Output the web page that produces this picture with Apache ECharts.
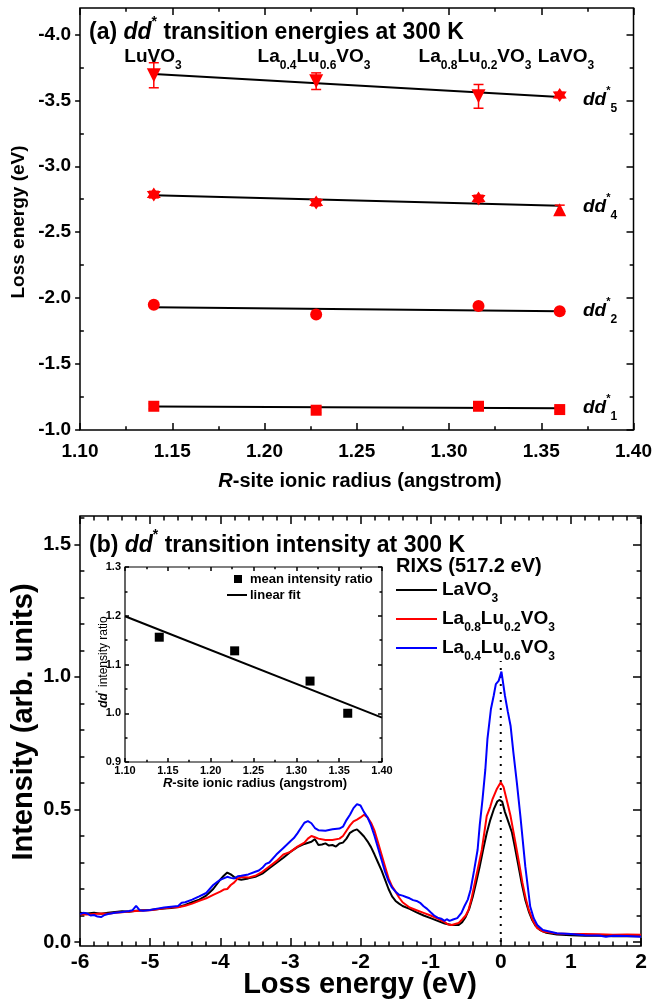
<!DOCTYPE html>
<html><head><meta charset="utf-8">
<script src="https://cdn.jsdelivr.net/npm/echarts@6.0.0/dist/echarts.min.js"></script>
<style>html,body{margin:0;padding:0;background:#fff}#c{width:655px;height:1001px}</style>
</head><body><div id="c"></div><script>
// ---------- data ----------
const radius = [1.14, 1.228, 1.316, 1.36];
const dd1 = [-1.18, -1.15, -1.18, -1.155];
const dd1Err = [0.02, 0.02, 0.02, 0.02];
const dd2 = [-1.95, -1.875, -1.94, -1.90];
const dd2Err = [0.01, 0.01, 0.01, 0.01];
const dd4 = [-2.785, -2.725, -2.755, -2.67];
const dd4Err = [0.025, 0.025, 0.025, 0.035];
const dd5 = [-3.69, -3.645, -3.53, -3.54];
const dd5Err = [0.095, 0.063, 0.09, 0.02];
const fitX = [1.14, 1.36];
const fit1 = [-1.178, -1.165];
const fit2 = [-1.93, -1.90];
const fit4 = [-2.78, -2.70];
const fit5 = [-3.70, -3.525];
const ratio = [1.156, 1.128, 1.066, 1.0];
const ratioFitX = [1.10, 1.40];
const ratioFit = [1.199, 0.991];
const topYLabels = [-4.0, -3.5, -3.0, -2.5, -2.0, -1.5, -1.0];
const botYLabels = [0.0, 0.5, 1.0, 1.5];
const lavo3 = [[-6.0,0.11],[-5.9,0.108],[-5.8,0.11],[-5.7,0.107],[-5.6,0.11],[-5.5,0.113],[-5.4,0.116],[-5.3,0.114],[-5.2,0.118],[-5.1,0.12],[-5.0,0.121],[-4.9,0.124],[-4.8,0.126],[-4.7,0.128],[-4.6,0.132],[-4.5,0.14],[-4.4,0.15],[-4.3,0.16],[-4.2,0.175],[-4.1,0.2],[-4.0,0.235],[-3.95,0.25],[-3.9,0.262],[-3.85,0.255],[-3.8,0.245],[-3.75,0.238],[-3.7,0.235],[-3.6,0.24],[-3.5,0.246],[-3.4,0.258],[-3.3,0.278],[-3.2,0.298],[-3.1,0.318],[-3.0,0.34],[-2.9,0.358],[-2.8,0.37],[-2.7,0.378],[-2.65,0.388],[-2.6,0.366],[-2.55,0.368],[-2.5,0.372],[-2.45,0.364],[-2.4,0.366],[-2.35,0.36],[-2.3,0.372],[-2.25,0.375],[-2.2,0.39],[-2.15,0.412],[-2.1,0.42],[-2.05,0.425],[-2.0,0.412],[-1.95,0.398],[-1.9,0.38],[-1.85,0.358],[-1.8,0.33],[-1.75,0.3],[-1.7,0.27],[-1.65,0.235],[-1.6,0.2],[-1.55,0.172],[-1.5,0.155],[-1.45,0.145],[-1.4,0.136],[-1.3,0.125],[-1.2,0.112],[-1.1,0.1],[-1.0,0.09],[-0.9,0.08],[-0.8,0.07],[-0.7,0.064],[-0.6,0.064],[-0.55,0.075],[-0.5,0.095],[-0.45,0.125],[-0.4,0.17],[-0.35,0.225],[-0.3,0.285],[-0.25,0.35],[-0.2,0.41],[-0.15,0.46],[-0.1,0.5],[-0.05,0.53],[-0.02,0.536],[0.02,0.53],[0.06,0.49],[0.1,0.46],[0.16,0.413],[0.2,0.36],[0.25,0.29],[0.3,0.22],[0.35,0.159],[0.4,0.115],[0.45,0.082],[0.5,0.06],[0.56,0.045],[0.65,0.035],[0.8,0.028],[1.0,0.026],[1.2,0.024],[1.4,0.025],[1.6,0.022],[1.8,0.023],[2.0,0.022]];
const la08 = [[-6.0,0.105],[-5.9,0.104],[-5.8,0.106],[-5.7,0.108],[-5.6,0.107],[-5.5,0.11],[-5.4,0.112],[-5.3,0.115],[-5.2,0.117],[-5.1,0.119],[-5.0,0.12],[-4.9,0.124],[-4.8,0.127],[-4.7,0.13],[-4.6,0.131],[-4.5,0.137],[-4.4,0.145],[-4.3,0.155],[-4.2,0.165],[-4.1,0.178],[-4.0,0.19],[-3.95,0.198],[-3.9,0.2],[-3.85,0.215],[-3.8,0.225],[-3.75,0.24],[-3.7,0.245],[-3.6,0.243],[-3.5,0.25],[-3.4,0.265],[-3.3,0.285],[-3.2,0.305],[-3.1,0.33],[-3.0,0.34],[-2.9,0.36],[-2.8,0.375],[-2.75,0.39],[-2.7,0.4],[-2.65,0.395],[-2.6,0.39],[-2.5,0.385],[-2.4,0.385],[-2.3,0.39],[-2.25,0.4],[-2.2,0.42],[-2.15,0.44],[-2.1,0.455],[-2.05,0.462],[-2.0,0.47],[-1.95,0.48],[-1.9,0.47],[-1.85,0.45],[-1.8,0.42],[-1.75,0.375],[-1.7,0.33],[-1.65,0.285],[-1.6,0.24],[-1.55,0.21],[-1.5,0.19],[-1.45,0.168],[-1.4,0.15],[-1.3,0.13],[-1.2,0.12],[-1.1,0.11],[-1.0,0.1],[-0.9,0.088],[-0.8,0.075],[-0.75,0.066],[-0.7,0.064],[-0.6,0.072],[-0.55,0.085],[-0.5,0.1],[-0.46,0.121],[-0.42,0.16],[-0.37,0.223],[-0.32,0.285],[-0.27,0.348],[-0.23,0.42],[-0.2,0.475],[-0.15,0.51],[-0.12,0.537],[-0.06,0.575],[0.0,0.603],[0.04,0.585],[0.1,0.52],[0.14,0.475],[0.21,0.374],[0.26,0.3],[0.31,0.223],[0.36,0.16],[0.4,0.121],[0.46,0.08],[0.52,0.052],[0.6,0.04],[0.8,0.032],[1.0,0.03],[1.2,0.03],[1.4,0.029],[1.6,0.027],[1.8,0.028],[2.0,0.027]];
const la04 = [[-6.0,0.105],[-5.95,0.11],[-5.9,0.108],[-5.85,0.1],[-5.8,0.102],[-5.75,0.096],[-5.7,0.094],[-5.65,0.102],[-5.6,0.106],[-5.5,0.11],[-5.4,0.113],[-5.3,0.117],[-5.25,0.12],[-5.2,0.136],[-5.15,0.12],[-5.1,0.118],[-5.0,0.121],[-4.9,0.126],[-4.8,0.13],[-4.7,0.133],[-4.6,0.136],[-4.55,0.148],[-4.5,0.15],[-4.4,0.16],[-4.3,0.172],[-4.2,0.185],[-4.15,0.2],[-4.1,0.215],[-4.05,0.225],[-4.0,0.235],[-3.95,0.24],[-3.9,0.246],[-3.85,0.242],[-3.8,0.24],[-3.75,0.248],[-3.7,0.25],[-3.6,0.255],[-3.5,0.265],[-3.45,0.27],[-3.4,0.28],[-3.35,0.295],[-3.3,0.3],[-3.2,0.33],[-3.1,0.355],[-3.0,0.38],[-2.95,0.392],[-2.9,0.41],[-2.85,0.43],[-2.8,0.45],[-2.75,0.456],[-2.7,0.448],[-2.65,0.43],[-2.6,0.422],[-2.5,0.42],[-2.4,0.425],[-2.3,0.428],[-2.25,0.435],[-2.2,0.46],[-2.15,0.48],[-2.1,0.505],[-2.05,0.52],[-2.0,0.515],[-1.95,0.49],[-1.9,0.47],[-1.85,0.44],[-1.8,0.4],[-1.75,0.355],[-1.7,0.31],[-1.65,0.265],[-1.6,0.23],[-1.55,0.205],[-1.5,0.19],[-1.45,0.178],[-1.4,0.175],[-1.35,0.17],[-1.3,0.165],[-1.25,0.158],[-1.2,0.155],[-1.15,0.148],[-1.1,0.135],[-1.05,0.125],[-1.0,0.112],[-0.95,0.1],[-0.9,0.092],[-0.85,0.088],[-0.8,0.08],[-0.77,0.086],[-0.73,0.08],[-0.68,0.085],[-0.62,0.09],[-0.56,0.11],[-0.52,0.134],[-0.47,0.16],[-0.43,0.197],[-0.38,0.27],[-0.33,0.348],[-0.3,0.44],[-0.26,0.538],[-0.22,0.65],[-0.19,0.765],[-0.14,0.879],[-0.1,0.93],[-0.07,0.973],[-0.03,0.985],[0.01,1.02],[0.06,0.929],[0.1,0.87],[0.14,0.816],[0.18,0.715],[0.23,0.6],[0.28,0.475],[0.35,0.285],[0.42,0.134],[0.47,0.09],[0.52,0.064],[0.6,0.045],[0.8,0.033],[1.0,0.03],[1.2,0.026],[1.4,0.025],[1.5,0.02],[1.6,0.024],[1.8,0.023],[2.0,0.02]];
const elasticLine = [[0, 0], [0, 1.06]];

// ---------- helpers ----------
const FONT = "'Liberation Sans', Arial, Helvetica, sans-serif";
const RED = '#ff0000', BLUE = '#0000ff', BLACK = '#000000';
const HEX = 'path://M0,-10 L2.887,-5 L8.66,-5 L5.774,0 L8.66,5 L2.887,5 L0,10 L-2.887,5 L-8.66,5 L-5.774,0 L-8.66,-5 L-2.887,-5 Z';

function richFor(size, weight) {
  const w = weight || 'bold';
  return {
    i: { fontStyle: 'italic', fontWeight: 'bold', fontSize: size, fontFamily: FONT, lineHeight: Math.round(size * 1.5), fill: '#000' },
    sup: { fontSize: Math.round(size * 0.6), fontWeight: w, fontFamily: FONT, verticalAlign: 'top', lineHeight: Math.round(size * 0.6), fill: '#000' },
    sub: { fontSize: Math.round(size * 0.62), fontWeight: w, fontFamily: FONT, verticalAlign: 'bottom', lineHeight: Math.round(size * 0.62), fill: '#000' }
  };
}
function txt(x, y, text, size, opt) {
  opt = opt || {};
  const align = opt.align || 'left';
  const weight = opt.weight || 'bold';
  return {
    type: 'text', x: x, y: y, rotation: opt.rotation || 0, z: 100,
    style: {
      text: text, rich: richFor(size, weight), fontSize: size, fontWeight: weight, fontFamily: FONT,
      fill: '#000', lineHeight: Math.round(size * 1.5),
      align: align, verticalAlign: 'middle', textAlign: align, textVerticalAlign: 'middle'
    }
  };
}
function gline(x1, y1, x2, y2, color, w) {
  return { type: 'line', z: 100, shape: { x1: x1, y1: y1, x2: x2, y2: y2 }, style: { stroke: color, lineWidth: w || 2 } };
}
const tickStyle = { color: '#000', width: 1.5 };
const noLine = { show: false, onZero: false };
function xFrame(gridIndex, min, max, interval, split, fmt, fontSize, margin, majLen) {
  const base = { gridIndex: gridIndex, type: 'value', min: min, max: max, interval: interval,
    axisLine: noLine, splitLine: { show: false },
    axisTick: { show: true, inside: true, length: majLen, lineStyle: tickStyle },
    minorTick: { show: true, splitNumber: split, length: majLen * 0.55, lineStyle: tickStyle } };
  return [
    Object.assign({}, base, { position: 'bottom',
      axisLabel: { show: true, formatter: fmt, color: '#000', fontWeight: 'bold', fontFamily: FONT, fontSize: fontSize, margin: margin } }),
    Object.assign({}, base, { position: 'top', axisLabel: { show: false } })
  ];
}
function yFrame(gridIndex, min, max, inverse, majors, minors, fontSize, margin, majLen) {
  const base = { gridIndex: gridIndex, type: 'value', min: min, max: max, inverse: inverse,
    axisLine: noLine, splitLine: { show: false } };
  return [
    Object.assign({}, base, { position: 'left',
      axisTick: { show: true, inside: false, length: majLen * 0.7, customValues: majors, lineStyle: tickStyle },
      axisLabel: { show: true, customValues: majors, formatter: v => v.toFixed(1), color: '#000', fontWeight: 'bold', fontFamily: FONT, fontSize: fontSize, margin: margin } }),
    Object.assign({}, base, { position: 'left', axisLabel: { show: false },
      axisTick: { show: true, inside: true, length: majLen * 0.55, customValues: minors, lineStyle: tickStyle } }),
    Object.assign({}, base, { position: 'right', axisLabel: { show: false },
      axisTick: { show: true, inside: true, length: majLen, customValues: majors, lineStyle: tickStyle } }),
    Object.assign({}, base, { position: 'right', axisLabel: { show: false },
      axisTick: { show: true, inside: true, length: majLen * 0.55, customValues: minors, lineStyle: tickStyle } })
  ];
}
function errRender(params, api) {
  const x = api.value(0), lo = api.value(1), hi = api.value(2);
  const p1 = api.coord([x, lo]), p2 = api.coord([x, hi]);
  const w = 5, st = { stroke: RED, lineWidth: 1.5 };
  return { type: 'group', children: [
    { type: 'line', shape: { x1: p1[0], y1: p1[1], x2: p2[0], y2: p2[1] }, style: st },
    { type: 'line', shape: { x1: p1[0] - w, y1: p1[1], x2: p1[0] + w, y2: p1[1] }, style: st },
    { type: 'line', shape: { x1: p2[0] - w, y1: p2[1], x2: p2[0] + w, y2: p2[1] }, style: st }
  ] };
}

// ---------- axes ----------
const topMajors = topYLabels;
const topMinors = [-3.75, -3.25, -2.75, -2.25, -1.75, -1.25];
const botMajors = botYLabels;
const botMinors = [0.1, 0.2, 0.3, 0.4, 0.6, 0.7, 0.8, 0.9, 1.1, 1.2, 1.3, 1.4, 1.6];

const xAxes = []
  .concat(xFrame(0, 1.1, 1.4, 0.05, 2, v => v.toFixed(2), 19, 12, 7))      // 0,1
  .concat(xFrame(1, -6, 2, 1, 5, v => String(v), 21, 6, 8))               // 2,3
  .concat(xFrame(2, 1.1, 1.4, 0.05, 2, v => v.toFixed(2), 11, 3, 4));     // 4,5
const yAxes = []
  .concat(yFrame(0, -4.2, -1.0, true, topMajors, topMinors, 19, 9, 7))    // 0-3
  .concat(yFrame(1, -0.015, 1.607, false, botMajors, botMinors, 20, 9, 8)) // 4-7
  .concat([                                                                  // 8,9
    { gridIndex: 2, type: 'value', position: 'left', min: 0.9, max: 1.3, interval: 0.1,
      axisLine: noLine, splitLine: { show: false },
      axisTick: { show: true, inside: true, length: 4, lineStyle: tickStyle },
      minorTick: { show: true, splitNumber: 2, length: 2.5, lineStyle: tickStyle },
      axisLabel: { formatter: v => v.toFixed(1), color: '#000', fontWeight: 'bold', fontFamily: FONT, fontSize: 11, margin: 4 } },
    { gridIndex: 2, type: 'value', position: 'right', min: 0.9, max: 1.3, interval: 0.1,
      axisLine: noLine, splitLine: { show: false }, axisLabel: { show: false },
      axisTick: { show: true, inside: true, length: 4, lineStyle: tickStyle },
      minorTick: { show: true, splitNumber: 2, length: 2.5, lineStyle: tickStyle } }
  ]);

// ---------- series ----------
function pts(ys) { return radius.map((r, i) => [r, ys[i]]); }
function errs(ys, es) { return radius.map((r, i) => [r, ys[i] - es[i], ys[i] + es[i]]); }
function fitData(xs, ys) { return xs.map((x, i) => [x, ys[i]]); }
const series = [];
[fit1, fit2, fit4, fit5].forEach(f => series.push({ type: 'line', xAxisIndex: 0, yAxisIndex: 0, data: fitData(fitX, f),
  symbol: 'none', lineStyle: { color: BLACK, width: 2 }, z: 3, silent: true }));
[[dd1, dd1Err], [dd2, dd2Err], [dd4, dd4Err], [dd5, dd5Err]].forEach(p => series.push({ type: 'custom', xAxisIndex: 0, yAxisIndex: 0,
  renderItem: errRender, data: errs(p[0], p[1]), encode: { x: 0, y: [1, 2] }, z: 4 }));
function markerSeries(ys, symbols, rotates, sizes) {
  return { type: 'scatter', xAxisIndex: 0, yAxisIndex: 0, z: 5,
    data: pts(ys).map((p, i) => ({ value: p, symbol: symbols[i], symbolRotate: rotates[i], symbolSize: sizes[i] })),
    itemStyle: { color: RED, opacity: 1 } };
}
series.push(markerSeries(dd1, ['rect', 'rect', 'rect', 'rect'], [0, 0, 0, 0], [11, 11, 11, 11]));
series.push(markerSeries(dd2, ['circle', 'circle', 'circle', 'circle'], [0, 0, 0, 0], [12, 12, 12, 12]));
series.push(markerSeries(dd4, [HEX, HEX, HEX, 'triangle'], [0, 0, 0, 0], [14, 14, 14, 13]));
series.push(markerSeries(dd5, ['triangle', 'triangle', 'triangle', HEX], [180, 180, 180, 0], [14, 14, 14, 14]));
[[lavo3, BLACK], [la08, RED], [la04, BLUE]].forEach(p => series.push({ type: 'line', xAxisIndex: 2, yAxisIndex: 4,
  data: p[0], symbol: 'none', lineStyle: { color: p[1], width: 2 }, z: 3, silent: true }));
series.push({ type: 'line', xAxisIndex: 2, yAxisIndex: 4, data: elasticLine, symbol: 'none',
  lineStyle: { color: BLACK, width: 2, type: [2, 6] }, z: 2, silent: true });
series.push({ type: 'line', xAxisIndex: 4, yAxisIndex: 8, data: fitData(ratioFitX, ratioFit), symbol: 'none',
  lineStyle: { color: BLACK, width: 2 }, z: 3, silent: true });
series.push({ type: 'scatter', xAxisIndex: 4, yAxisIndex: 8, data: radius.map((r, i) => [r, ratio[i]]),
  symbol: 'rect', symbolSize: 9, itemStyle: { color: BLACK, opacity: 1 }, z: 4 });

// ---------- text ----------
const graphic = [
  txt(89, 33, '(a) {i|dd}{sup|*} transition energies at 300 K', 23),
  txt(153, 57, 'LuVO{sub|3}', 19, { align: 'center' }),
  txt(314, 57, 'La{sub|0.4}Lu{sub|0.6}VO{sub|3}', 19, { align: 'center' }),
  txt(475, 57, 'La{sub|0.8}Lu{sub|0.2}VO{sub|3}', 19, { align: 'center' }),
  txt(566, 57, 'LaVO{sub|3}', 19, { align: 'center' }),
  txt(583, 100, '{i|dd}{sup|*}{sub|5}', 19),
  txt(583, 207, '{i|dd}{sup|*}{sub|4}', 19),
  txt(583, 311, '{i|dd}{sup|*}{sub|2}', 19),
  txt(583, 408, '{i|dd}{sup|*}{sub|1}', 19),
  txt(19, 222, 'Loss energy (eV)', 19, { align: 'center', rotation: Math.PI / 2 }),
  txt(360, 481, '{i|R}-site ionic radius (angstrom)', 20, { align: 'center' }),
  txt(89, 546, '(b) {i|dd}{sup|*} transition intensity at 300 K', 23),
  txt(24, 722, 'Intensity (arb. units)', 29, { align: 'center', rotation: Math.PI / 2 }),
  txt(360, 985, 'Loss energy (eV)', 29, { align: 'center' }),
  txt(396, 566, 'RIXS (517.2 eV)', 20),
  gline(396, 590, 437, 590, BLACK, 2), txt(442, 590, 'LaVO{sub|3}', 19),
  gline(396, 619, 437, 619, RED, 2), txt(442, 619, 'La{sub|0.8}Lu{sub|0.2}VO{sub|3}', 19),
  gline(396, 648, 437, 648, BLUE, 2), txt(442, 648, 'La{sub|0.4}Lu{sub|0.6}VO{sub|3}', 19),
  { type: 'rect', z: 100, shape: { x: 234, y: 575, width: 8, height: 8 }, style: { fill: BLACK } },
  txt(250, 579, 'mean intensity ratio', 13),
  gline(227, 595, 247, 595, BLACK, 2), txt(250, 595, 'linear fit', 13),
  txt(104, 662, '{i|dd}{sup|*} intensity ratio', 12, { align: 'center', rotation: Math.PI / 2, weight: 'normal' }),
  txt(255, 783, '{i|R}-site ionic radius (angstrom)', 13, { align: 'center' })
];

const chart = echarts.init(document.getElementById('c'), null, { renderer: 'canvas' });
chart.setOption({
  animation: false,
  backgroundColor: '#ffffff',
  grid: [
    { left: 80, top: 8, width: 561, height: 422, show: true, borderColor: '#000', borderWidth: 1.5, backgroundColor: 'transparent' },
    { left: 80, top: 516, width: 561, height: 430, show: true, borderColor: '#000', borderWidth: 1.5, backgroundColor: 'transparent' },
    { left: 125, top: 567, width: 257, height: 195, show: true, borderColor: '#000', borderWidth: 1.2, backgroundColor: '#ffffff' }
  ],
  xAxis: xAxes,
  yAxis: yAxes,
  series: series,
  graphic: graphic
});
</script></body></html>
